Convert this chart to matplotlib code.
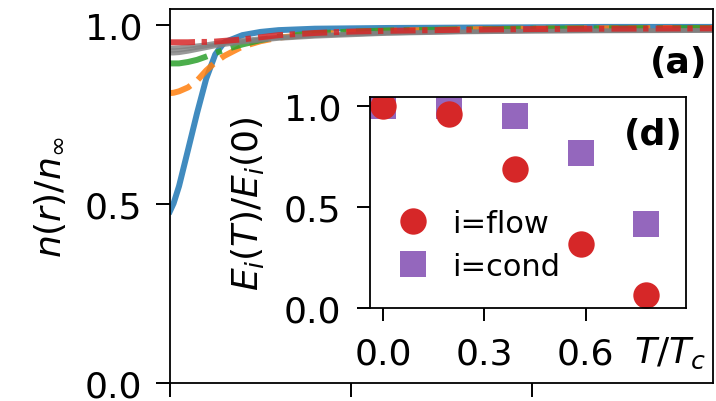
import matplotlib
matplotlib.use("Agg")
import matplotlib.pyplot as plt

# radial positions for the density profiles
r = [0, 0.1, 0.25, 0.5, 0.75, 1.0, 1.25, 1.5, 2, 2.5, 3, 4, 5, 6, 8, 10, 12, 15]

n_blue = [0.48, 0.502, 0.55, 0.652, 0.755, 0.85, 0.918, 0.952, 0.972, 0.981, 0.986,
          0.990, 0.991, 0.992, 0.993, 0.994, 0.995, 0.995]
n_orange = [0.81, 0.811, 0.815, 0.826, 0.845, 0.873, 0.896, 0.914, 0.94, 0.955, 0.965,
            0.975, 0.98, 0.984, 0.988, 0.99, 0.991, 0.992]
n_green = [0.893, 0.893, 0.893, 0.897, 0.903, 0.912, 0.922, 0.931, 0.946, 0.958, 0.968,
           0.977, 0.982, 0.985, 0.988, 0.99, 0.991, 0.992]
n_red = [0.952, 0.952, 0.952, 0.952, 0.953, 0.953, 0.954, 0.956, 0.96, 0.966, 0.972,
         0.978, 0.982, 0.984, 0.987, 0.989, 0.99, 0.991]
n_gray = [
    [0.937, 0.937, 0.938, 0.94, 0.943, 0.946, 0.95, 0.953, 0.958, 0.963, 0.967,
     0.972, 0.976, 0.979, 0.982, 0.984, 0.985, 0.986],
    [0.929, 0.929, 0.930, 0.933, 0.937, 0.941, 0.945, 0.949, 0.955, 0.96, 0.964,
     0.97, 0.974, 0.977, 0.981, 0.983, 0.984, 0.985],
    [0.921, 0.921, 0.922, 0.926, 0.931, 0.936, 0.941, 0.945, 0.952, 0.957, 0.962,
     0.968, 0.972, 0.976, 0.98, 0.982, 0.983, 0.984],
]

# inset: normalised energies versus temperature
t_over_tc = [0.0, 0.195, 0.39, 0.585, 0.78]
e_flow = [1.0, 0.961, 0.688, 0.316, 0.065]
e_cond = [1.0, 1.0, 0.953, 0.768, 0.415]

main_yticks = [0.0, 0.5, 1.0]
inset_xticks = [0.0, 0.3, 0.6]
inset_yticks = [0.0, 0.5, 1.0]

FS = 26
LW = 4.3

fig = plt.figure(figsize=(7.16, 4.02), dpi=100)
ax = fig.add_axes([0.2374, 0.0448, 0.7584, 0.9303])

ax.plot(r, n_blue, color="#1f77b4", lw=LW, alpha=0.85, ls="-")
ax.plot(r, n_orange, color="#ff7f0e", lw=LW, alpha=0.85, ls="--")
ax.plot(r, n_green, color="#2ca02c", lw=LW, alpha=0.85, ls="-.")
for g in n_gray:
    ax.plot(r, g, color="gray", lw=3.0, alpha=0.8)
ax.plot(r, n_red, color="#d62728", lw=LW, alpha=0.85,
        ls=(0, (4.2, 1.1, 0.9, 1.2)))

ax.set_xlim(0, 15)
ax.set_ylim(0, 1.045)
ax.set_xticks([0, 5, 10])
ax.set_yticks(main_yticks)
ax.set_yticklabels([f"{v:.1f}" for v in main_yticks])
ax.tick_params(axis="both", labelsize=FS, length=10, width=1.4, pad=10)
ax.tick_params(axis="x", labelbottom=False)
for s in ax.spines.values():
    s.set_linewidth(1.3)
ax.set_ylabel(r"$n(r)/n_\infty$", fontsize=FS)
ax.yaxis.set_label_coords(-0.19, 0.5)
ax.text(0.989, 0.858, "(a)", transform=ax.transAxes, fontsize=26,
        fontweight="bold", ha="right", va="center")

# inset
ins = fig.add_axes([0.5168, 0.2313, 0.4413, 0.5249])
h_cond, = ins.plot(t_over_tc, e_cond, ls="none", marker="s", ms=19,
                   mew=0, color="#9467bd", label="i=cond")
h_flow, = ins.plot(t_over_tc, e_flow, ls="none", marker="o", ms=19,
                   mew=0, color="#d62728", label="i=flow")
ins.set_xlim(-0.0395, 0.898)
ins.set_ylim(0, 1.047)
ins.set_xticks(inset_xticks)
ins.set_xticklabels([f"{v:.1f}" for v in inset_xticks])
ins.set_yticks(inset_yticks)
ins.set_yticklabels([f"{v:.1f}" for v in inset_yticks])
ins.tick_params(axis="both", labelsize=FS, length=9.5, width=1.4, pad=11)
for s in ins.spines.values():
    s.set_linewidth(1.3)
ins.set_ylabel(r"$E_i(T)/E_i(0)$", fontsize=FS)
ins.yaxis.set_label_coords(-0.33, 0.5)
ins.text(0.95, -0.208, r"$T/T_c$", transform=ins.transAxes, fontsize=FS,
         ha="center", va="center")
ins.text(0.99, 0.827, "(d)", transform=ins.transAxes, fontsize=26,
         fontweight="bold", ha="right", va="center")
ins.legend([h_flow, h_cond], ["i=flow", "i=cond"], fontsize=22, frameon=False,
           loc="center left", bbox_to_anchor=(0.0, 0.3), handletextpad=0.6,
           labelspacing=0.45, borderpad=0.2, handlelength=1.4)

fig.savefig("out.png", dpi=100)
